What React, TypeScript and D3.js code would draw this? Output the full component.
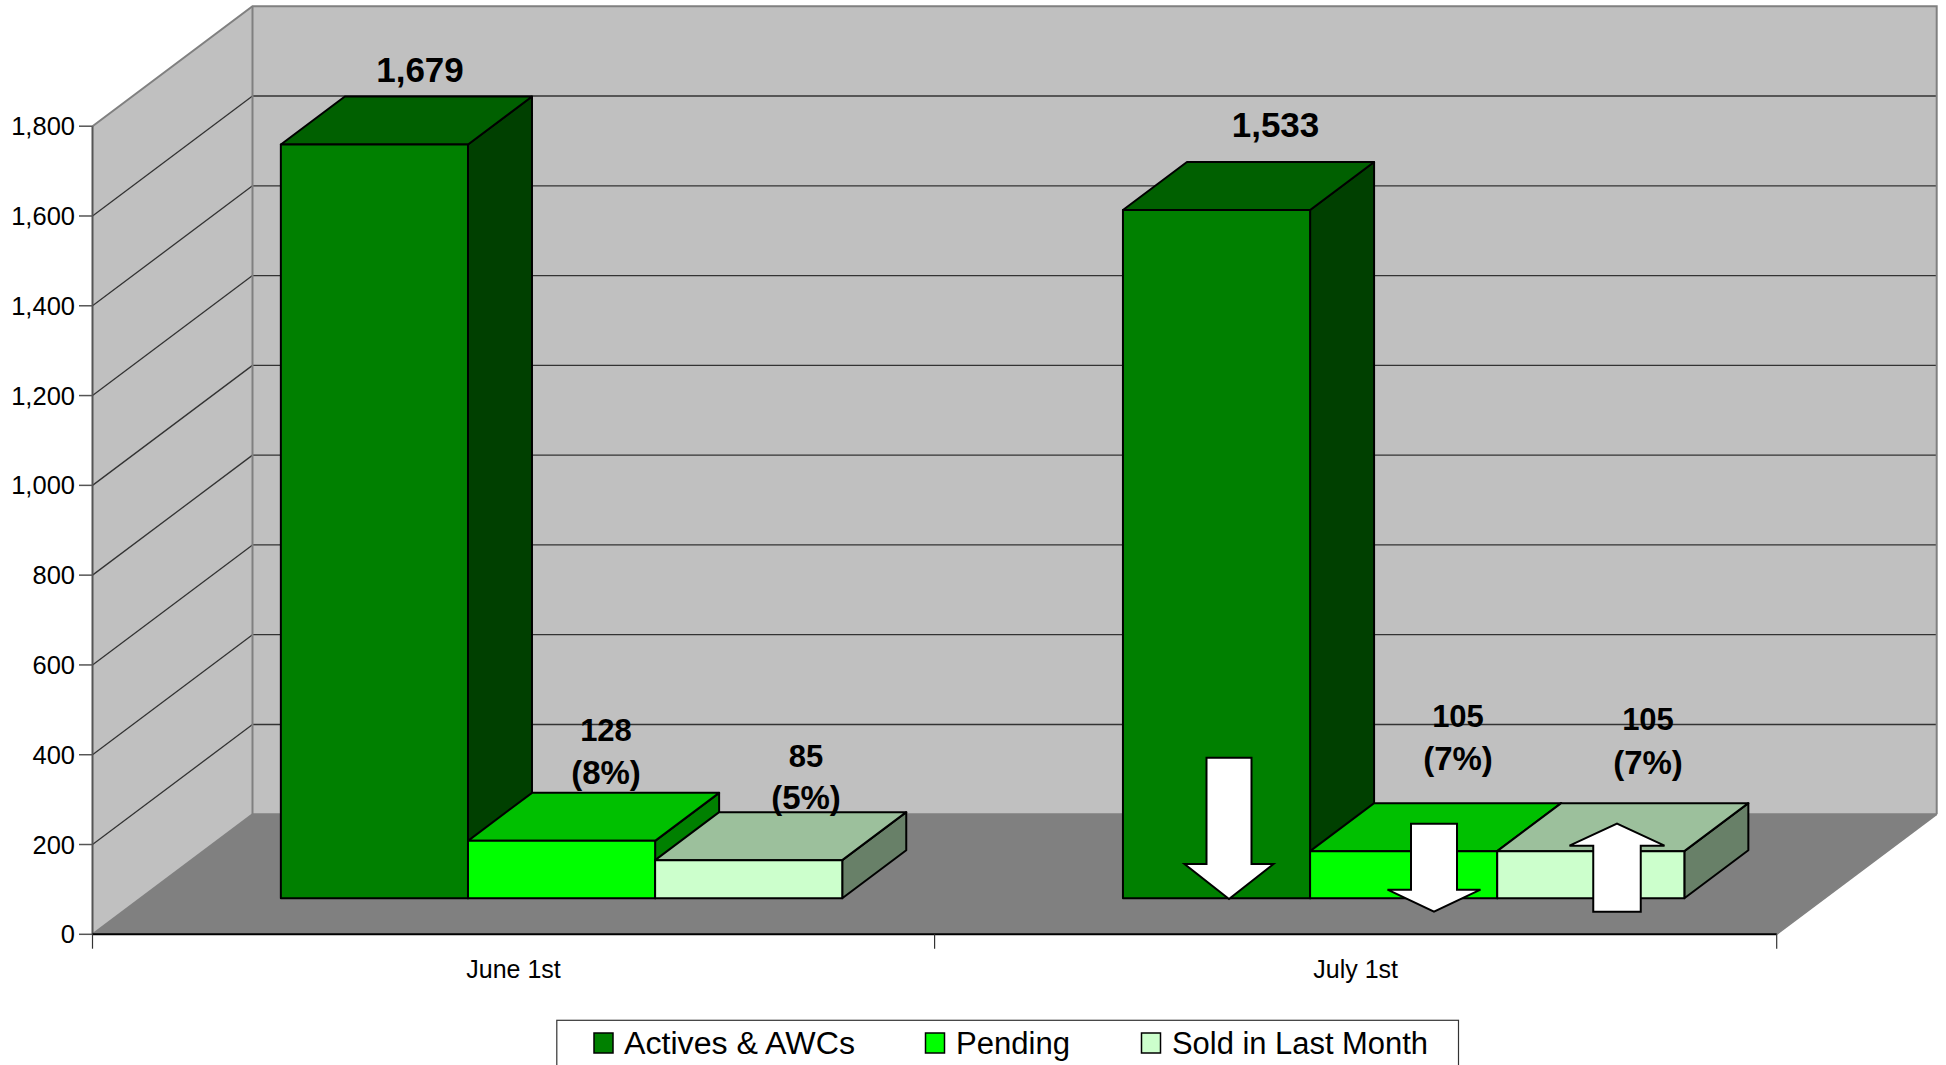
import React from "react";
import * as d3 from "d3";

const categories = ["June 1st", "July 1st"];
const seriesNames = ["Actives & AWCs", "Pending", "Sold in Last Month"];
const activesValues = [1679, 1533];
const pendingValues = [128, 105];
const soldValues = [85, 105];
const pendingShare = ["(8%)", "(7%)"];
const soldShare = ["(5%)", "(7%)"];
const yTicks = [0, 200, 400, 600, 800, 1000, 1200, 1400, 1600, 1800];

const seriesValues = [activesValues, pendingValues, soldValues];
const faceColors = [
  { front: "#008000", top: "#006000", side: "#004000" },
  { front: "#00ff00", top: "#00c000", side: "#008000" },
  { front: "#ccffcc", top: "#9cc09c", side: "#688068" },
];

const W = 1946;
const H = 1065;
const DEPTH_X = 160;
const DEPTH_Y = -120;
const FONT = "'Liberation Sans', Arial, sans-serif";

const y = d3.scaleLinear().domain([0, 1800]).range([934.3, 126.2]);
const xCat = d3.scaleBand<string>().domain(categories).range([92.5, 1776.7]).paddingInner(0).paddingOuter(0);
const xSeries = d3
  .scaleBand<string>()
  .domain(seriesNames)
  .range([0, xCat.bandwidth()])
  .paddingInner(0)
  .paddingOuter(0.75);
const zNear = 0.3;
const zFar = 0.7;

const pt = (x: number, value: number, z: number): [number, number] => [x + z * DEPTH_X, y(value) + z * DEPTH_Y];
const poly = (pts: [number, number][]) => (d3.line()(pts) || "") + "Z";

function Bar({ x0, x1, value, colors }: { x0: number; x1: number; value: number; colors: (typeof faceColors)[0] }) {
  const front = poly([pt(x0, 0, zNear), pt(x1, 0, zNear), pt(x1, value, zNear), pt(x0, value, zNear)]);
  const top = poly([pt(x0, value, zNear), pt(x1, value, zNear), pt(x1, value, zFar), pt(x0, value, zFar)]);
  const side = poly([pt(x1, 0, zNear), pt(x1, 0, zFar), pt(x1, value, zFar), pt(x1, value, zNear)]);
  const common = { stroke: "#000", strokeWidth: 2, strokeLinejoin: "round" as const };
  return (
    <g>
      <path d={side} fill={colors.side} {...common} />
      <path d={top} fill={colors.top} {...common} />
      <path d={front} fill={colors.front} {...common} />
    </g>
  );
}

function arrowDown(cx: number, top: number, shaftBottom: number, tip: number, shaftW: number, headW: number) {
  return poly([
    [cx - shaftW / 2, top],
    [cx + shaftW / 2, top],
    [cx + shaftW / 2, shaftBottom],
    [cx + headW / 2, shaftBottom],
    [cx, tip],
    [cx - headW / 2, shaftBottom],
    [cx - shaftW / 2, shaftBottom],
  ]);
}

const labelBig = { fontFamily: FONT, fontWeight: 700, fontSize: 35, textAnchor: "middle" as const, dominantBaseline: "central" as const, fill: "#000" };
const labelSmall = { ...labelBig, fontSize: 31 };
const labelShare = { ...labelBig, fontSize: 33 };

export default function App() {
  const x0 = 92.5;
  const x1 = 1776.7;
  const wallTop = 1800;
  const [bx0, by0] = pt(x0, 0, 1);
  const [bx1] = pt(x1, 0, 1);
  const [, byTop] = pt(x0, wallTop, 1);

  const legendItems = [
    { swatch: 594, text: 624, len: 231 },
    { swatch: 925.5, text: 956, len: 114 },
    { swatch: 1141.5, text: 1172, len: 256 },
  ];

  return (
    <svg width={W} height={H} viewBox={`0 0 ${W} ${H}`} style={{ position: "absolute", left: 0, top: 0, display: "block", background: "#fff" }}>
      {/* walls and floor */}
      <path d={poly([[bx0, byTop], [bx1, byTop], [bx1, by0], [bx0, by0]])} fill="#c0c0c0" />
      <path d={poly([[x0, y(wallTop)], [bx0, byTop], [bx0, by0], [x0, y(0)]])} fill="#c0c0c0" />
      <path d={poly([[x0, y(0)], [x1, y(0)], [bx1, by0], [bx0, by0]])} fill="#808080" />

      {/* gridlines */}
      {yTicks.slice(1, -1).map((t) => (
        <g key={t} fill="none" stroke="#333" strokeWidth={1.3}>
          <line x1={x0} y1={y(t)} x2={bx0} y2={y(t) + DEPTH_Y} />
          <line x1={bx0} y1={y(t) + DEPTH_Y} x2={bx1} y2={y(t) + DEPTH_Y} />
        </g>
      ))}

      {/* wall borders */}
      <g fill="none" stroke="#808080" strokeWidth={2}>
        <path d={`M${x0},${y(wallTop)}L${bx0},${byTop}L${bx1},${byTop}L${bx1},${by0}`} />
        <path d={`M${bx0},${byTop}L${bx0},${by0}L${bx1},${by0}`} />
        <path d={`M${x0},${y(0)}L${bx0},${by0}`} />
        <path d={`M${x1},${y(0)}L${bx1},${by0}`} strokeWidth={1.5} />
        <path d={`M${x0},${y(wallTop)}L${x0},${y(0)}`} stroke="#555" />
      </g>

      {/* axes */}
      {yTicks.map((t) => (
        <g key={t}>
          <line x1={79} x2={x0} y1={y(t)} y2={y(t)} stroke="#555" strokeWidth={1.5} />
          <text x={75} y={y(t)} textAnchor="end" dominantBaseline="central" fontFamily={FONT} fontSize={25.5} fill="#000">
            {d3.format(",")(t)}
          </text>
        </g>
      ))}
      <line x1={x0} x2={x1} y1={y(0)} y2={y(0)} stroke="#000" strokeWidth={2} />
      {[x0, x0 + xCat.step(), x1].map((x) => (
        <line key={x} x1={x} x2={x} y1={y(0)} y2={948.7} stroke="#333" strokeWidth={1.2} />
      ))}
      {categories.map((c) => (
        <text key={c} x={(xCat(c) as number) + xCat.bandwidth() / 2} y={969} textAnchor="middle" dominantBaseline="central" fontFamily={FONT} fontSize={25} fill="#000">
          {c}
        </text>
      ))}

      {/* bars */}
      {categories.map((c, ci) =>
        seriesNames.map((s, si) => {
          const left = (xCat(c) as number) + (xSeries(s) as number);
          return <Bar key={c + s} x0={left} x1={left + xSeries.bandwidth()} value={seriesValues[si][ci]} colors={faceColors[si]} />;
        })
      )}

      {/* value labels */}
      <text {...labelBig} x={420} y={69}>{d3.format(",")(activesValues[0])}</text>
      <text {...labelBig} x={1275.5} y={124}>{d3.format(",")(activesValues[1])}</text>
      <text {...labelSmall} x={606} y={730}>{pendingValues[0]}</text>
      <text {...labelShare} x={606} y={772}>{pendingShare[0]}</text>
      <text {...labelSmall} x={806} y={756}>{soldValues[0]}</text>
      <text {...labelShare} x={806} y={797}>{soldShare[0]}</text>
      <text {...labelSmall} x={1458} y={716}>{pendingValues[1]}</text>
      <text {...labelShare} x={1458} y={758}>{pendingShare[1]}</text>
      <text {...labelSmall} x={1648} y={719}>{soldValues[1]}</text>
      <text {...labelShare} x={1648} y={762}>{soldShare[1]}</text>

      {/* change arrows */}
      <g fill="#fff" stroke="#000" strokeWidth={2} strokeLinejoin="miter">
        <path d={arrowDown(1229, 757.7, 864, 899, 45, 89)} />
        <path d={arrowDown(1434, 823.7, 889.7, 911.7, 46, 93)} />
        <path d={arrowDown(1617, 911.7, 845.7, 823.7, 47.5, 95)} />
      </g>

      {/* legend */}
      <rect x={556.8} y={1020.3} width={901.7} height={60} fill="#fff" stroke="#333" strokeWidth={1.2} />
      {seriesNames.map((s, i) => (
        <g key={s}>
          <rect x={legendItems[i].swatch} y={1033} width={19} height={20} fill={faceColors[i].front} stroke="#000" strokeWidth={1.5} />
          <text x={legendItems[i].text} y={1043} dominantBaseline="central" fontFamily={FONT} fontSize={31} fill="#000" textLength={legendItems[i].len} lengthAdjust="spacingAndGlyphs">
            {s}
          </text>
        </g>
      ))}
    </svg>
  );
}
